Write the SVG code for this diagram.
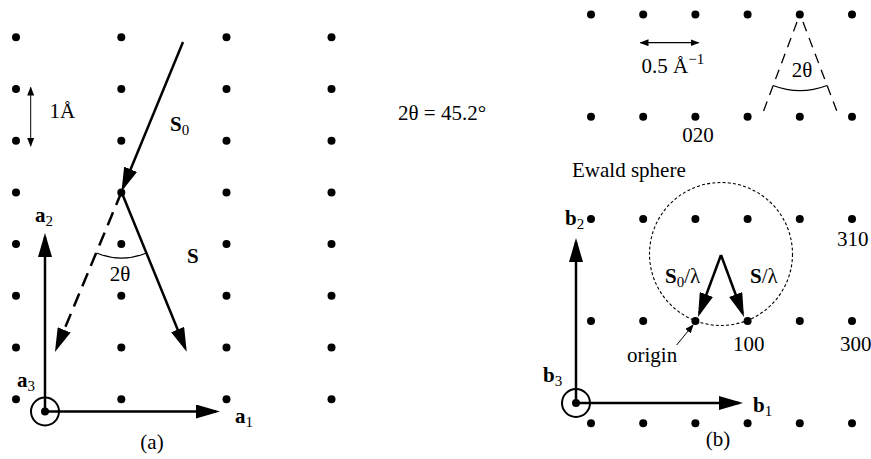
<svg xmlns="http://www.w3.org/2000/svg" width="871" height="459" viewBox="0 0 871 459">
<style>
text{font-family:"Liberation Serif","DejaVu Serif",serif;font-size:21px;fill:#000}
.b{font-weight:bold}
.sub{font-size:15px;font-weight:normal}
.m{text-anchor:middle}
.vec{stroke:#000;stroke-width:2.5;fill:none;marker-end:url(#ah)}
.dash{stroke-dasharray:14 8}
.thin{stroke:#000;stroke-width:1.2;fill:none}
.arc{stroke:#000;stroke-width:1.2;fill:none}
.dot{fill:#000}
</style>
<defs>
<marker id="ah" viewBox="0 0 24 14" markerWidth="24" markerHeight="14" refX="20" refY="7" orient="auto" markerUnits="userSpaceOnUse"><path d="M0,0 L24,7 L0,14 z" fill="#000"/></marker>
<marker id="sh" viewBox="0 0 9 7" markerWidth="9" markerHeight="7" refX="8" refY="3.5" orient="auto-start-reverse" markerUnits="userSpaceOnUse"><path d="M0,0 L9,3.5 L0,7 z" fill="#000"/></marker>
<g id="dotsA">
<circle class="dot" cx="0" cy="37.3" r="4"/><circle class="dot" cx="0" cy="89" r="4"/><circle class="dot" cx="0" cy="140.7" r="4"/><circle class="dot" cx="0" cy="192.4" r="4"/><circle class="dot" cx="0" cy="244.1" r="4"/><circle class="dot" cx="0" cy="295.8" r="4"/><circle class="dot" cx="0" cy="347.5" r="4"/><circle class="dot" cx="0" cy="399.2" r="4"/>
</g>
<g id="dotsB">
<circle class="dot" cx="591" cy="0" r="4"/><circle class="dot" cx="643.2" cy="0" r="4"/><circle class="dot" cx="695.4" cy="0" r="4"/><circle class="dot" cx="747.6" cy="0" r="4"/><circle class="dot" cx="799.8" cy="0" r="4"/><circle class="dot" cx="852" cy="0" r="4"/>
</g>
</defs>

<!-- Panel (a) -->
<g id="latticeA">
<use href="#dotsA" x="16"/><use href="#dotsA" x="121.3"/><use href="#dotsA" x="226.5"/><use href="#dotsA" x="331.5"/>
</g>
<g id="connectorsA">
<line class="thin" x1="30.7" y1="87.5" x2="30.7" y2="146" style="stroke-width:1;marker-start:url(#sh);marker-end:url(#sh)"/>
<line class="vec" x1="183" y1="42" x2="123" y2="187.8"/>
<line class="vec dash" x1="121.5" y1="192" x2="56.5" y2="348.3"/>
<line class="vec" x1="121.5" y1="192" x2="185.2" y2="348"/>
<path class="arc" d="M96.5,253 A66,66 0 0 0 146.5,253"/>
<line class="vec" x1="45" y1="411.5" x2="45" y2="237"/>
<line class="vec" x1="45" y1="411.5" x2="216" y2="411.5"/>
</g>
<g id="originA">
<circle cx="45" cy="411.5" r="14" fill="none" stroke="#000" stroke-width="2"/>
<circle class="dot" cx="45" cy="411.5" r="4"/>
</g>
<g id="labelsA">
<text x="49.5" y="118">1Å</text>
<text class="b" x="170" y="131">S<tspan class="sub" dy="4">0</tspan></text>
<text class="b" x="187" y="263">S</text>
<text class="m" x="120" y="281">2θ</text>
<text class="b" x="35" y="222">a<tspan class="sub" dy="4">2</tspan></text>
<text class="b" x="17" y="387">a<tspan class="sub" dy="4">3</tspan></text>
<text class="b" x="235" y="423">a<tspan class="sub" dy="4">1</tspan></text>
<text class="m" x="152" y="449">(a)</text>
<text x="398" y="120">2θ = 45.2°</text>
</g>

<!-- Panel (b) -->
<g id="latticeB">
<use href="#dotsB" y="14.5"/><use href="#dotsB" y="116.7"/><use href="#dotsB" y="218.9"/><use href="#dotsB" y="321"/><use href="#dotsB" y="423.3"/>
</g>
<g id="connectorsB">
<line class="thin" x1="640.5" y1="42.7" x2="698.5" y2="42.7" style="marker-start:url(#sh);marker-end:url(#sh)"/>
<line class="thin dash" x1="797" y1="22" x2="762.7" y2="113.3" style="stroke-width:1.3;stroke-dasharray:10 7"/>
<line class="thin dash" x1="803" y1="22" x2="837.7" y2="113.3" style="stroke-width:1.3;stroke-dasharray:10 7"/>
<path class="arc" d="M773,85.5 A75.5,75.5 0 0 0 827,85.5"/>
<circle cx="721" cy="254" r="71.5" fill="none" stroke="#000" stroke-width="1.1" stroke-dasharray="3 2.2"/>
<line class="vec" x1="721" y1="255" x2="699.4" y2="313.2"/>
<line class="vec" x1="721" y1="255" x2="742.6" y2="313.2"/>
<line class="thin" x1="676.7" y1="345" x2="693" y2="325" style="stroke-width:1"/>
<line class="vec" x1="576" y1="403" x2="576" y2="242"/>
<line class="vec" x1="576" y1="403" x2="739" y2="403"/>
</g>
<g id="originArrowHead">
<line x1="676.7" y1="345" x2="693" y2="325" stroke="none" style="marker-end:url(#sh)"/>
</g>
<g id="originB">
<circle cx="576" cy="403" r="14" fill="none" stroke="#000" stroke-width="2"/>
<circle class="dot" cx="576" cy="403" r="4"/>
</g>
<g id="labelsB">
<text x="641.5" y="73">0.5 Å<tspan class="sub" dy="-9">−1</tspan></text>
<text class="m" x="802" y="77">2θ</text>
<text class="m" x="698" y="142">020</text>
<text x="572" y="177">Ewald sphere</text>
<text class="b" x="565" y="225">b<tspan class="sub" dy="4">2</tspan></text>
<text x="837" y="246">310</text>
<text class="b" x="665" y="283">S<tspan class="sub" dy="4">0</tspan><tspan dy="-4" style="font-weight:normal">/λ</tspan></text>
<text class="b" x="750" y="283">S<tspan style="font-weight:normal">/λ</tspan></text>
<text x="733" y="351">100</text>
<text x="840" y="351">300</text>
<text x="627" y="362">origin</text>
<text class="b" x="543" y="382">b<tspan class="sub" dy="4">3</tspan></text>
<text class="b" x="753" y="412">b<tspan class="sub" dy="4">1</tspan></text>
<text class="m" x="718" y="446">(b)</text>
</g>
</svg>
